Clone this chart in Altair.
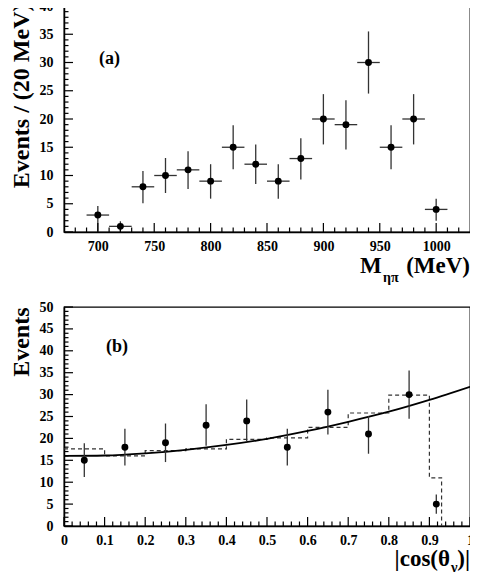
import altair as alt
import pandas as pd

# ---------------- data: panel (a) ----------------
mass = [700, 720, 740, 760, 780, 800, 820, 840, 860, 880, 900, 920, 940, 960, 980, 1000]
counts_a = [3, 1, 8, 10, 11, 9, 15, 12, 9, 13, 20, 19, 30, 15, 20, 4]
hi_a = [4.6, 1.9, 10.8, 13.1, 14.3, 12.0, 18.9, 15.5, 12.0, 16.6, 24.4, 23.3, 35.5, 18.9, 24.4, 5.9]
lo_a = [0.0, 0.0, 5.1, 6.9, 7.6, 5.9, 11.1, 8.5, 5.9, 9.3, 15.5, 14.6, 24.5, 11.1, 15.5, 2.0]
half_bin = [10] * 16

x_major_a = [700, 750, 800, 850, 900, 950, 1000]
x_minor_a = [680, 690, 710, 720, 730, 740, 760, 770, 780, 790, 810, 820, 830, 840,
             860, 870, 880, 890, 910, 920, 930, 940, 960, 970, 980, 990, 1010, 1020]
y_major_a = [0, 5, 10, 15, 20, 25, 30, 35, 40]
y_minor_a = [v for v in range(0, 41) if v % 5 != 0]

# ---------------- data: panel (b) ----------------
cos_x = [0.05, 0.15, 0.25, 0.35, 0.45, 0.55, 0.65, 0.75, 0.85, 0.917]
counts_b = [15, 18, 19, 23, 24, 18, 26, 21, 30, 5]
hi_b = [18.9, 22.2, 23.4, 27.8, 28.9, 22.2, 31.1, 25.1, 35.5, 7.2]
lo_b = [11.2, 13.8, 14.6, 18.3, 19.4, 13.8, 20.9, 16.5, 24.5, 2.8]

hist_edges = [0.0, 0.1, 0.2, 0.3, 0.4, 0.5, 0.6, 0.7, 0.8, 0.9, 0.93]
hist_vals = [17.6, 16.0, 17.2, 17.6, 19.8, 20.1, 22.5, 25.8, 29.9, 11.0, 0.0]

curve_x = [0.0, 0.1, 0.2, 0.3, 0.4, 0.5, 0.6, 0.7, 0.8, 0.9, 1.0]
curve_y = [16.0, 16.1, 16.6, 17.4, 18.5, 19.9, 21.7, 23.8, 26.1, 28.8, 31.8]

x_major_b = [0, 0.1, 0.2, 0.3, 0.4, 0.5, 0.6, 0.7, 0.8, 0.9, 1.0]
x_minor_b = [round(i * 0.02, 2) for i in range(1, 50) if i % 5 != 0]
y_major_b = [0, 5, 10, 15, 20, 25, 30, 35, 40, 45, 50]
y_minor_b = [v for v in range(0, 51) if v % 5 != 0]

W = 406
H1, H2 = 226, 219
FONT = "Liberation Serif"
ERR = "#333333"
MAJ, MIN = 9, 4.5

df_a = pd.DataFrame({"m": mass, "n": counts_a, "hi": hi_a, "lo": lo_a, "hb": half_bin})
df_b = pd.DataFrame({"c": cos_x, "n": counts_b, "hi": hi_b, "lo": lo_b})
df_h = pd.DataFrame({"c": hist_edges, "v": hist_vals})
df_c = pd.DataFrame({"c": curve_x, "v": curve_y})


def axis_x(values, fmt):
    return alt.Axis(values=values, format=fmt, title=None, grid=False, tickSize=0,
                    ticks=False, labelPadding=7, labelFont=FONT, labelFontWeight="bold",
                    labelFontSize=14, labelColor="black", labelFlush=False,
                    labelOverlap=False, domainColor="black", domainWidth=1.5)


def axis_y(values, title, ty):
    return alt.Axis(values=values, title=title, grid=False, tickSize=0, ticks=False,
                    labelPadding=11, labelFont=FONT, labelFontWeight="bold",
                    labelFontSize=14, labelColor="black", labelFlush=False,
                    labelOverlap=False, domainColor="black", domainWidth=1.5,
                    titleFont=FONT, titleFontWeight="bold", titleFontSize=24,
                    titleColor="black", titleAngle=-90, titleAlign="right",
                    titleBaseline="alphabetic", titleX=-36, titleY=ty)


def tick_layers(H, xs_major, xs_minor, ys_major, ys_minor, xs, ys, ax, ay):
    out = []
    for vals, ln in ((xs_major, MAJ), (xs_minor, MIN)):
        d = pd.DataFrame({"t": vals})
        out.append(alt.Chart(d).mark_rule(color="black", strokeWidth=1.2).encode(
            x=alt.X("t:Q", scale=xs, axis=ax), y=alt.value(H), y2=alt.value(H - ln)))
    for vals, ln in ((ys_major, MAJ), (ys_minor, MIN)):
        d = pd.DataFrame({"t": vals})
        out.append(alt.Chart(d).mark_rule(color="black", strokeWidth=1.2).encode(
            y=alt.Y("t:Q", scale=ys, axis=ay), x=alt.value(0), x2=alt.value(ln)))
    return out


def label(text, x, y, size, align="left", baseline="alphabetic"):
    return alt.Chart(pd.DataFrame({"t": [text]})).mark_text(
        font=FONT, fontWeight="bold", fontSize=size, align=align, baseline=baseline,
        color="black").encode(text="t:N", x=alt.value(x), y=alt.value(y))


# ---------------- panel (a) ----------------
xa = alt.Scale(domain=[670, 1030], nice=False, zero=False)
ya = alt.Scale(domain=[0, 40], nice=False)
axa = axis_x(x_major_a, "d")
aya = axis_y(y_major_a, "Events / (20 MeV)", -3)
base_a = alt.Chart(df_a).transform_calculate(
    left="datum.m - datum.hb", right="datum.m + datum.hb")

va = base_a.mark_rule(color=ERR, strokeWidth=1.3).encode(
    x=alt.X("m:Q", scale=xa, axis=axa),
    y=alt.Y("lo:Q", scale=ya, axis=aya),
    y2="hi:Q")
ha = base_a.mark_rule(color=ERR, strokeWidth=1.3).encode(
    x=alt.X("left:Q", scale=xa, axis=axa), x2="right:Q",
    y=alt.Y("n:Q", scale=ya, axis=aya))
pa = base_a.mark_circle(color="black", size=48, opacity=1).encode(
    x=alt.X("m:Q", scale=xa, axis=axa), y=alt.Y("n:Q", scale=ya, axis=aya))

panel_a = alt.layer(
    va, ha, pa,
    *tick_layers(H1, x_major_a, x_minor_a, y_major_a, y_minor_a, xa, ya, axa, aya),
    label("(a)", 35, 58, 18),
    label("M", 296, H1 + 41, 23),
    label("\u03b7\u03c0", 319, H1 + 50, 14),
    label("(MeV)", W, H1 + 41, 23, align="right"),
).properties(width=W, height=H1)

# ---------------- panel (b) ----------------
xb = alt.Scale(domain=[0, 1], nice=False, zero=False)
yb = alt.Scale(domain=[0, 50], nice=False)
axb = axis_x(x_major_b, "~g")
ayb = axis_y(y_major_b, "Events", 0)

vb = alt.Chart(df_b).mark_rule(color=ERR, strokeWidth=1.3).encode(
    x=alt.X("c:Q", scale=xb, axis=axb),
    y=alt.Y("lo:Q", scale=yb, axis=ayb),
    y2="hi:Q")
pb = alt.Chart(df_b).mark_circle(color="black", size=48, opacity=1).encode(
    x=alt.X("c:Q", scale=xb, axis=axb), y=alt.Y("n:Q", scale=yb, axis=ayb))
hist = alt.Chart(df_h).mark_line(interpolate="step-after", color="#333333",
                                 strokeWidth=1.2, strokeDash=[4, 3]).encode(
    x=alt.X("c:Q", scale=xb, axis=axb), y=alt.Y("v:Q", scale=yb, axis=ayb))
curve = alt.Chart(df_c).mark_line(interpolate="monotone", color="black",
                                  strokeWidth=1.8).encode(
    x=alt.X("c:Q", scale=xb, axis=axb), y=alt.Y("v:Q", scale=yb, axis=ayb))

panel_b = alt.layer(
    hist, curve, vb, pb,
    *tick_layers(H2, x_major_b, x_minor_b, y_major_b, y_minor_b, xb, yb, axb, ayb),
    label("(b)", 42, 45, 18),
    label("|cos(\u03b8", W - 20, H2 + 40, 23, align="right"),
    label("\u03b3", W - 19, H2 + 46, 14),
    label(")|", W, H2 + 40, 23, align="right"),
).properties(width=W, height=H2)

chart = alt.vconcat(panel_a, panel_b, spacing=13).configure_view(
    stroke="black", strokeWidth=1.3
).properties(padding={"left": 0, "top": -10, "right": -5, "bottom": -4})

chart.save("out.html", embed_options={"renderer": "svg", "actions": False})
